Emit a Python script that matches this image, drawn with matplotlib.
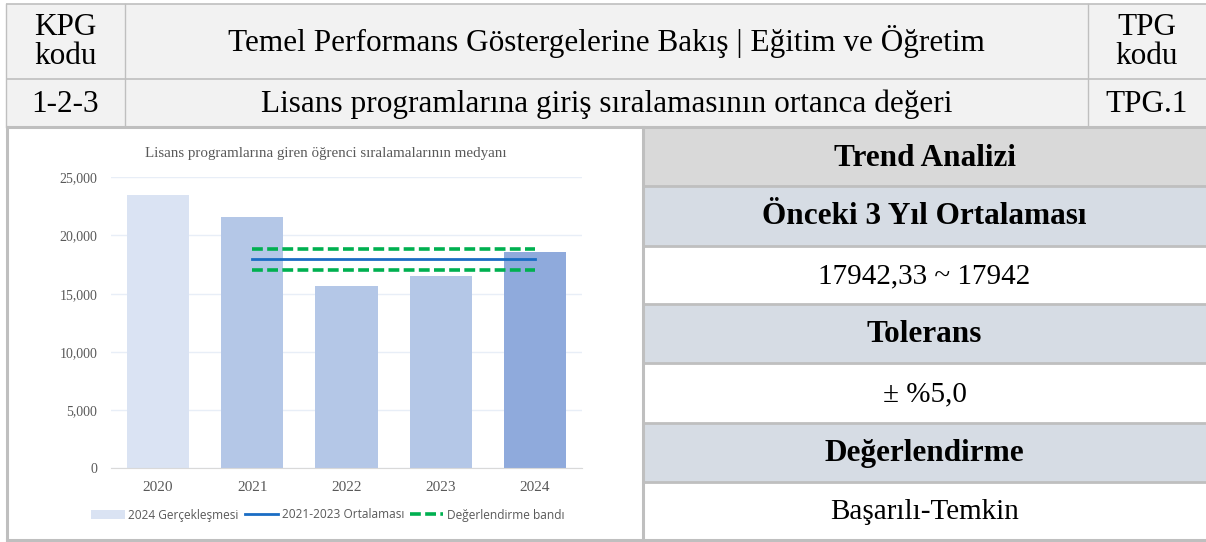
import matplotlib
matplotlib.use("Agg")
import matplotlib.pyplot as plt
from matplotlib.patches import Rectangle, Patch
from matplotlib.lines import Line2D

# ---- data ----
years = ["2020", "2021", "2022", "2023", "2024"]
values = [23510, 21590, 15690, 16560, 18590]
avg_value = 17942.33
tolerance = 0.05
yticks = [0, 5000, 10000, 15000, 20000, 25000]

chart_title = "Lisans programlarına giren öğrenci sıralamalarının medyanı"
legend_labels = ["2024 Gerçekleşmesi", "2021-2023 Ortalaması", "Değerlendirme bandı"]

header_row1 = ["KPG\nkodu", "Temel Performans Göstergelerine Bakış | Eğitim ve Öğretim", "TPG\nkodu"]
header_row2 = ["1-2-3", "Lisans programlarına giriş sıralamasının ortanca değeri", "TPG.1"]
panel_rows = ["Trend Analizi", "Önceki 3 Yıl Ortalaması", "17942,33 ~ 17942",
              "Tolerans", "± %5,0", "Değerlendirme", "Başarılı-Temkin"]

# ---- figure ----
W, H = 1206, 542
fig = plt.figure(figsize=(W / 100, H / 100), dpi=100)
fig.patch.set_facecolor("white")

serif = ["Liberation Serif", "DejaVu Serif"]

# overlay axes in pixel coordinates
ov = fig.add_axes([0, 0, 1, 1])
ov.set_xlim(0, W)
ov.set_ylim(H, 0)
ov.axis("off")

grid_c = "#bfbfbf"
# header background
ov.add_patch(Rectangle((6, 4), W - 6, 123, facecolor="#f2f2f2", edgecolor="none"))
# header lines
for y in (4, 79, 127):
    ov.plot([6, W], [y, y], color=grid_c, lw=1.2 if y != 127 else 2.2, solid_capstyle="butt")
for x in (6, 125, 1088):
    ov.plot([x, x], [4, 127], color=grid_c, lw=1.0)

cols = [(6, 125), (125, 1088), (1088, W)]
for (x0, x1), t in zip(cols, header_row1):
    ov.text((x0 + x1) / 2, 42, t, ha="center", va="center", family=serif,
            fontsize=22.5, color="black", linespacing=1.0)
for (x0, x1), t in zip(cols, header_row2):
    ov.text((x0 + x1) / 2, 104, t, ha="center", va="center", family=serif,
            fontsize=22.5, color="black")

# right panel
row_edges = [128, 186, 246, 304, 363, 423, 482, 540]
bgs = ["#d9d9d9", "#d6dce4", "#ffffff", "#d6dce4", "#ffffff", "#d6dce4", "#ffffff"]
bold = [True, True, False, True, False, True, False]
px0 = 643
for i, t in enumerate(panel_rows):
    y0, y1 = row_edges[i], row_edges[i + 1]
    ov.add_patch(Rectangle((px0, y0), W - px0, y1 - y0, facecolor=bgs[i], edgecolor="none"))
    ov.text((px0 + W) / 2, (y0 + y1) / 2 + 1, t, ha="center", va="center", family=serif,
            fontsize=22.5 if bold[i] else 21, fontweight="bold" if bold[i] else "normal",
            color="black")
for y in row_edges[1:-1]:
    ov.plot([px0, W], [y, y], color=grid_c, lw=2.0, solid_capstyle="butt")

# outer borders of lower area
ov.plot([7, 7], [127, 540], color=grid_c, lw=2.2)
ov.plot([px0, px0], [127, 540], color=grid_c, lw=2.2)
ov.plot([7, W], [540, 540], color=grid_c, lw=2.2)

# ---- chart ----
left, right, bottom, top = 111, 582, 468.3, 177.3
ax = fig.add_axes([left / W, (H - bottom) / H, (right - left) / W, (bottom - top) / H])
ax.set_facecolor("none")
bar_colors = ["#dae3f3", "#b4c7e7", "#b4c7e7", "#b4c7e7", "#8faadc"]
x = list(range(len(years)))
ax.bar(x, values, width=0.66, color=bar_colors, zorder=2)

dash = (0, (3.0, 1.2))
ax.plot([1, 4], [avg_value, avg_value], color="#1a6dc4", lw=2.0, zorder=3)
ax.plot([1, 4], [avg_value * (1 + tolerance)] * 2, color="#00b050", lw=2.6,
        linestyle=dash, zorder=3)
ax.plot([1, 4], [avg_value * (1 - tolerance)] * 2, color="#00b050", lw=2.6,
        linestyle=dash, zorder=3)

ax.set_xlim(-0.5, 4.5)
ax.set_ylim(0, 25000)
ax.set_yticks(yticks)
ax.set_yticklabels([f"{v:,}" for v in yticks])
ax.set_xticks(x)
ax.set_xticklabels(years)
ax.grid(axis="y", color="#e8eef7", lw=1.0, zorder=0)
for s in ("top", "right", "left"):
    ax.spines[s].set_visible(False)
ax.spines["bottom"].set_color("#d9d9d9")
ax.tick_params(axis="both", length=0, colors="#595959")
ax.tick_params(axis="y", pad=10, labelsize=10)
ax.tick_params(axis="x", pad=9, labelsize=11)
for lab in ax.get_xticklabels() + ax.get_yticklabels():
    lab.set_family(serif)

fig.text(326 / W, 1 - 153 / H, chart_title, ha="center", va="center", family=serif,
         fontsize=10.8, color="#595959")

handles = [Patch(facecolor="#dae3f3", edgecolor="none"),
           Line2D([0], [0], color="#1a6dc4", lw=2.0),
           Line2D([0], [0], color="#00b050", lw=2.6, linestyle=dash)]
leg = fig.legend(handles, legend_labels, loc="center", bbox_to_anchor=(328 / W, 1 - 515 / H),
                 ncol=3, frameon=False, handlelength=2.8, handletextpad=0.3,
                 columnspacing=0.5, prop={"family": "Open Sans", "size": 8.6})
for t in leg.get_texts():
    t.set_color("#595959")

fig.savefig("out.png", dpi=100, facecolor="white")
